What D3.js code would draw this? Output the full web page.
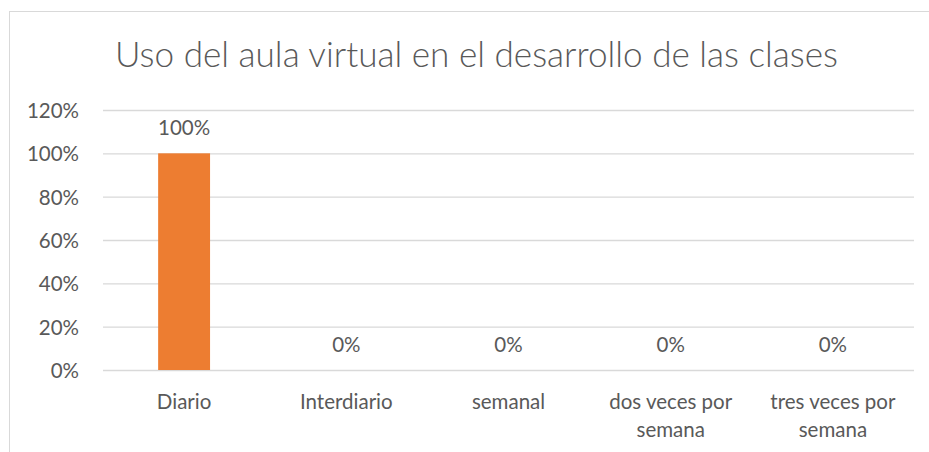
<!DOCTYPE html>
<html><head><meta charset="utf-8">
<script src="https://cdn.jsdelivr.net/npm/d3@7"></script>
<style>body{margin:0;background:#fff;} svg{display:block;}</style>
</head><body>
<svg id="c" width="929" height="452"></svg>
<script>
const title = "Uso del aula virtual en el desarrollo de las clases";
const categories = ["Diario", "Interdiario", "semanal", "dos veces por semana", "tres veces por semana"];
const categoryLines = [["Diario"], ["Interdiario"], ["semanal"], ["dos veces por", "semana"], ["tres veces por", "semana"]];
const values = [1.00, 0, 0, 0, 0];
const yTicks = [0, 0.2, 0.4, 0.6, 0.8, 1.0, 1.2];

(function() {
const svg = d3.select("#c");
const font = "Lato, 'Open Sans', sans-serif";
const txt = "#595959";
const fs = "20.5px";

// chart border
svg.append("rect").attr("x", 9.5).attr("y", 11.5).attr("width", 930).attr("height", 460)
  .attr("fill", "none").attr("stroke", "#D9D9D9").attr("stroke-width", 1);

const pl = 103, pr = 914, pt = 110, pb = 370;
const x = d3.scaleBand().domain(categories).range([pl, pr]).paddingInner(0.68).paddingOuter(0.34);
const y = d3.scaleLinear().domain([0, 1.2]).range([pb, pt]);

// gridlines
const yAxis = d3.axisLeft(y).tickValues(yTicks).tickSize(-(pr - pl)).tickFormat(d3.format(".0%"));
const ga = svg.append("g").attr("transform", `translate(${pl},0)`).call(yAxis);
ga.select(".domain").remove();
ga.selectAll(".tick line").attr("stroke", "#D9D9D9").attr("stroke-width", 1.3);
ga.selectAll(".tick text").attr("x", -24).attr("y", 0).attr("dy", "0.36em").attr("fill", txt)
  .style("font-family", font).style("font-size", fs);

// bars
svg.selectAll("rect.bar").data(values).enter().append("rect").attr("class", "bar")
  .attr("x", (d, i) => x(categories[i])).attr("width", x.bandwidth())
  .attr("y", d => y(d)).attr("height", d => y(0) - y(d)).attr("fill", "#ED7D31");

// data labels
svg.selectAll("text.lbl").data(values).enter().append("text").attr("class", "lbl")
  .attr("x", (d, i) => x(categories[i]) + x.bandwidth() / 2).attr("y", d => y(d) - 18)
  .attr("text-anchor", "middle").attr("fill", txt).style("font-family", font).style("font-size", fs)
  .text(d => d3.format(".0%")(d));

// category labels
const xa = d3.axisBottom(x).tickSize(0).tickFormat("");
const gx = svg.append("g").attr("transform", `translate(0,${pb})`).call(xa);
gx.select(".domain").remove();
gx.selectAll(".tick").each(function(d, i) {
  const t = d3.select(this).append("text").attr("text-anchor", "middle").attr("fill", txt)
    .style("font-family", font).style("font-size", fs);
  categoryLines[i].forEach((ln, j) => t.append("tspan").attr("x", 0).attr("y", 39 + j * 28).text(ln));
});

// title
const tt = svg.append("text").attr("x", 476.5).attr("y", 67).attr("text-anchor", "middle")
  .attr("fill", txt).style("font-family", font).style("font-weight", 300).style("font-size", "30px").text(title);
const w = tt.node().getComputedTextLength();
tt.style("font-size", (30 * 723 / w).toFixed(2) + "px");
})();
</script>
</body></html>
